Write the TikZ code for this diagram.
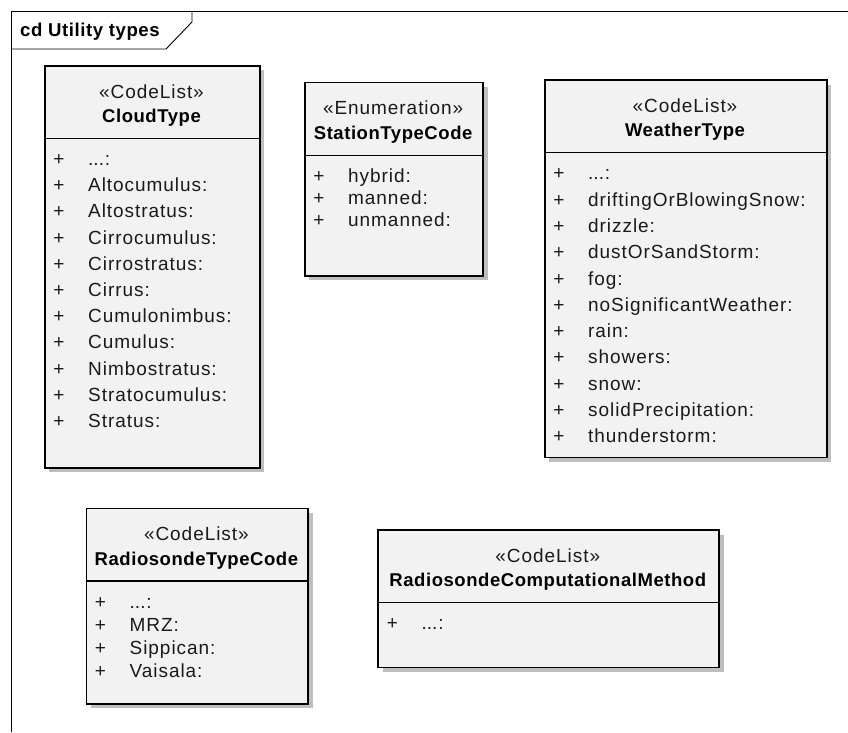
\documentclass[tikz,border=0pt]{standalone}
\usepackage{fontspec}
\setmainfont{Liberation Sans}[LetterSpace=5]
\newfontfamily\labelfont{Liberation Sans}[LetterSpace=3]
\usetikzlibrary{shadows}
\definecolor{boxfill}{HTML}{F2F2F2}
\definecolor{shadowgrey}{HTML}{BEBEBE}
\definecolor{inkgrey}{HTML}{1A1A1A}
\newcommand\threedots{.\kern0pt.\kern0pt.}
\tikzset{
  umlbox/.style={draw=black, line width=1.7pt, fill=boxfill, inner sep=0pt,
    anchor=north west,
    drop shadow={shadow xshift=4.5pt, shadow yshift=-4.5pt, fill=shadowgrey, opacity=1}},
  sepline/.style={draw=black, line width=1.2pt},
  frameline/.style={draw=black, line width=0.9pt},
  stereo/.style={anchor=base, inner sep=0pt, text=inkgrey, font=\fontsize{19}{22}\selectfont},
  title/.style={anchor=base, inner sep=0pt, text=black, font=\labelfont\bfseries\fontsize{18.5}{22}\selectfont},
  plussign/.style={anchor=base, inner sep=0pt, text=inkgrey, font=\fontsize{19}{22}\selectfont},
  itemtext/.style={anchor=base west, inner sep=0pt, text=inkgrey, font=\fontsize{19}{22}\selectfont},
  framelabel/.style={anchor=base west, inner sep=0pt, text=black, font=\labelfont\bfseries\fontsize{18.6}{22}\selectfont}
}
% #1 name, #2 left, #3 top, #4 right, #5 bottom, #6 stereotype, #7 title, #8 spacing, #9 items
\newcommand\umlclass[9]{%
  \node[umlbox, minimum width={(#4-#2)*1pt}, minimum height={(#5-#3)*1pt}] (#1) at (#2,#3) {};
  \node[stereo] (#1-stereo) at ({(#2+#4)/2},{#3+33}) {#6};
  \node[title] (#1-title) at ({(#2+#4)/2},{#3+57.5}) {#7};
  \draw[sepline] (#2,{#3+73.5}) -- (#4,{#3+73.5});
  \foreach \itm [count=\i from 0] in {#9} {
    \node[plussign] (#1-plus\i) at ({#2+15},{#3+100.5+\i*#8}) {+};
    \node[itemtext] (#1-item\i) at ({#2+44},{#3+100.5+\i*#8}) {\itm};
  }
}
\begin{document}
\begin{tikzpicture}[x=1pt,y=-1pt]
\useasboundingbox (0,0) rectangle (848,732);
\fill[white] (0,0) rectangle (848,732);
% frame
\draw[frameline] (11,732) -- (11,11) -- (848,11);
\draw[frameline] (11,49) -- (166,49) -- (192,22) -- (192,11);
\node[framelabel] (framelbl) at (20,36.5) {cd Utility types};
% classes
\umlclass{cloud}{44}{65}{259}{467}{«CodeList»}{CloudType}{26.2}{\threedots:,Altocumulus:,Altostratus:,Cirrocumulus:,Cirrostratus:,Cirrus:,Cumulonimbus:,Cumulus:,Nimbostratus:,Stratocumulus:,Stratus:}
\umlclass{station}{304}{81.7}{482.3}{275}{«Enumeration»}{StationTypeCode}{22}{hybrid:,manned:,unmanned:}
\umlclass{weather}{544}{79.3}{826}{456.7}{«CodeList»}{WeatherType}{26.3}{\threedots:,driftingOrBlowingSnow:,drizzle:,dustOrSandStorm:,fog:,noSignificantWeather:,rain:,showers:,snow:,solidPrecipitation:,thunderstorm:}
\umlclass{rstype}{85.5}{507.5}{307.3}{703}{«CodeList»}{RadiosondeTypeCode}{23.3}{\threedots:,MRZ:,Sippican:,Vaisala:}
\umlclass{rsmethod}{377.3}{529.3}{718.3}{666.7}{«CodeList»}{RadiosondeComputationalMethod}{23}{\threedots:}
\end{tikzpicture}
\end{document}
